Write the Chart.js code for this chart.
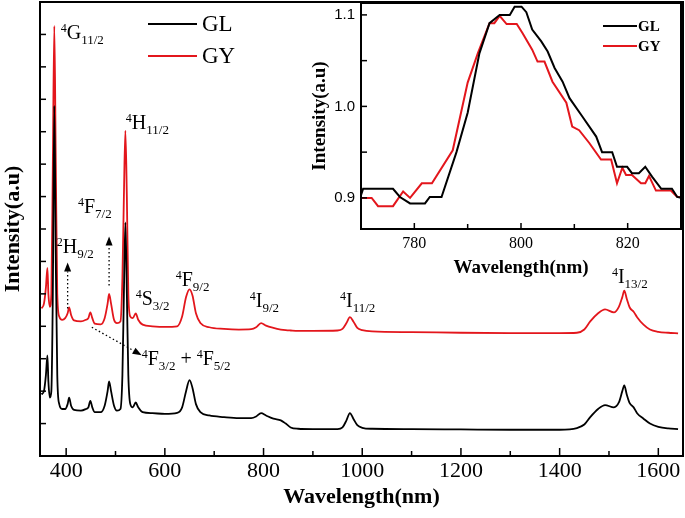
<!DOCTYPE html>
<html>
<head>
<meta charset="utf-8">
<script src="https://cdn.jsdelivr.net/npm/chart.js@4.4.1/dist/chart.umd.min.js"></script>
<style>
  html, body { margin: 0; padding: 0; background: #fff; }
  #wrap { position: relative; width: 685px; height: 518px; }
  .box { position: absolute; }
</style>
</head>
<body>
<div id="wrap">
  <div class="box" style="left:0;top:0;width:685px;height:518px"><canvas id="main" width="685" height="518"></canvas></div>
  <div class="box" style="left:280px;top:0;width:405px;height:290px"><canvas id="inset" width="405" height="290"></canvas></div>
</div>
<script>
// main spectrum (wavelength in nm, intensity in tick units)
var wavelength = [
  350, 355, 359, 362, 364, 367, 370, 373, 376, 379,
  382, 386, 392, 398, 403, 406, 410, 416, 430, 440,
  445, 449, 453, 458, 470, 478, 484, 487, 491, 497,
  503, 510, 514, 517, 520, 523, 526, 530, 535, 541,
  546, 555, 575, 600, 625, 635, 643, 650, 656, 663,
  672, 690, 720, 750, 775, 785, 795, 805, 820, 835,
  845, 855, 870, 900, 950, 960, 968, 975, 982, 990,
  1000, 1020, 1100, 1200, 1300, 1400, 1435, 1450, 1462, 1478,
  1492, 1510, 1520, 1527, 1531, 1536, 1542, 1550, 1557, 1570,
  1583, 1600, 1620, 1640
];
var glIntensity = [
  1.9, 2.0, 2.5, 3.1, 2.3, 1.8, 2.0, 5.0, 10.8, 6.0,
  2.5, 1.6, 1.45, 1.45, 1.6, 1.8, 1.55, 1.42, 1.4, 1.45,
  1.5, 1.7, 1.5, 1.35, 1.35, 1.55, 2.0, 2.3, 2.0, 1.55,
  1.4, 1.45, 2.5, 5.0, 7.2, 5.0, 2.5, 1.6, 1.5, 1.65,
  1.5, 1.35, 1.32, 1.3, 1.33, 1.5, 2.0, 2.34, 2.1, 1.6,
  1.35, 1.25, 1.2, 1.17, 1.17, 1.22, 1.32, 1.25, 1.15, 1.1,
  1.0, 0.88, 0.84, 0.83, 0.83, 0.88, 1.1, 1.32, 1.15, 0.95,
  0.87, 0.84, 0.83, 0.82, 0.81, 0.81, 0.86, 0.97, 1.2, 1.45,
  1.57, 1.5, 1.65, 2.0, 2.18, 1.9, 1.63, 1.5, 1.32, 1.15,
  1.0, 0.9, 0.85, 0.83
];
var gyIntensity = [
  4.55, 4.7, 5.2, 5.8, 5.0, 4.6, 5.0, 9.0, 13.26, 9.0,
  5.0, 4.3, 4.2, 4.25, 4.4, 4.58, 4.35, 4.18, 4.15, 4.2,
  4.25, 4.43, 4.25, 4.08, 4.06, 4.25, 4.7, 5.0, 4.7, 4.2,
  4.1, 4.15, 5.5, 8.0, 10.03, 8.0, 5.0, 4.3, 4.25, 4.4,
  4.2, 4.05, 4.0, 3.98, 4.0, 4.3, 4.9, 5.14, 4.95, 4.4,
  4.1, 3.97, 3.92, 3.9, 3.91, 3.97, 4.1, 4.02, 3.95, 3.9,
  3.88, 3.87, 3.86, 3.86, 3.87, 3.92, 4.1, 4.28, 4.15, 3.95,
  3.88, 3.84, 3.82, 3.8, 3.79, 3.79, 3.8, 3.9, 4.15, 4.4,
  4.52, 4.43, 4.6, 4.9, 5.1, 4.85, 4.58, 4.45, 4.28, 4.05,
  3.9, 3.83, 3.8, 3.78
];
var xTicks = [400, 500, 600, 700, 800, 900, 1000, 1100, 1200, 1300, 1400, 1500, 1600];
var xTickLabels = [400, 600, 800, 1000, 1200, 1400, 1600];
var yTicks = [1, 2, 3, 4, 5, 6, 7, 8, 9, 10, 11, 12, 13];

// inset (zoom around 800 nm)
var insetGLWavelength = [
  770, 770.4, 776, 777.3, 779.2, 782, 782.9, 785.1, 787.9, 790,
  792.2, 794.1, 796, 797.9, 798.8, 800.1, 801, 802.1, 803.8, 805,
  806.3, 807.8, 809.1, 811.5, 814.1, 815.2, 817.1, 818, 819.9, 820.8,
  822.1, 823.3, 824.6, 826.3, 828.3, 829.3, 830
];
var insetGLIntensity = [
  0.903, 0.91, 0.91, 0.901, 0.894, 0.894, 0.901, 0.901, 0.95, 0.993,
  1.058, 1.091, 1.1, 1.1, 1.109, 1.109, 1.103, 1.084, 1.071, 1.06,
  1.042, 1.027, 1.009, 0.989, 0.967, 0.95, 0.95, 0.934, 0.934, 0.927,
  0.927, 0.934, 0.923, 0.91, 0.91, 0.901, 0.9
];
var insetGYWavelength = [
  770, 772, 773.2, 776, 777.9, 779.2, 781.4, 783.3, 787.2, 790,
  791.9, 794.1, 795, 796, 797.3, 799.2, 800.3, 802.1, 803.1, 804.4,
  805.9, 808.5, 809.6, 810.9, 812.8, 815, 816.9, 818, 819, 819.7,
  820.8, 822.5, 823.3, 824, 825.3, 828.1, 829.3, 830
];
var insetGYIntensity = [
  0.9, 0.9, 0.891, 0.891, 0.907, 0.9, 0.916, 0.916, 0.952, 1.026,
  1.058, 1.091, 1.091, 1.099, 1.09, 1.09, 1.08, 1.062, 1.049, 1.049,
  1.027, 1.004, 0.978, 0.974, 0.96, 0.942, 0.942, 0.916, 0.933, 0.925,
  0.925, 0.916, 0.916, 0.924, 0.908, 0.908, 0.901, 0.901
];
var insetXTicks = [780, 790, 800, 810, 820];
var insetXTickLabels = [780, 800, 820];
var insetYTicks = [0.9, 0.95, 1.0, 1.05, 1.1];
var insetYTickLabels = [0.9, 1.0, 1.1];

// level labels: [sup, letter, sub] pieces, placed at (wavelength, intensity)
var levelLabels = [
  { x: 389, y: 12.86, parts: [['4', 'sup'], ['G', 'n'], ['11/2', 'sub']] },
  { x: 521, y: 10.09, parts: [['4', 'sup'], ['H', 'n'], ['11/2', 'sub']] },
  { x: 424, y: 7.48, parts: [['4', 'sup'], ['F', 'n'], ['7/2', 'sub']] },
  { x: 381, y: 6.25, parts: [['2', 'sup'], ['H', 'n'], ['9/2', 'sub']] },
  { x: 541, y: 4.65, parts: [['4', 'sup'], ['S', 'n'], ['3/2', 'sub']] },
  { x: 622, y: 5.23, parts: [['4', 'sup'], ['F', 'n'], ['9/2', 'sub']] },
  { x: 553, y: 2.8, parts: [['4', 'sup'], ['F', 'n'], ['3/2', 'sub'], [' + ', 'n'], ['4', 'sup'], ['F', 'n'], ['5/2', 'sub']] },
  { x: 772, y: 4.58, parts: [['4', 'sup'], ['I', 'n'], ['9/2', 'sub']] },
  { x: 955, y: 4.58, parts: [['4', 'sup'], ['I', 'n'], ['11/2', 'sub']] },
  { x: 1506, y: 5.35, parts: [['4', 'sup'], ['I', 'n'], ['13/2', 'sub']] }
];
// dotted arrows: from (x1,y1) to tip (x2,y2)
var arrows = [
  [403, 4.55, 403, 5.97],
  [487, 5.26, 487, 6.77],
  [452, 3.97, 553, 3.11]
];

var RED = '#e3161c';
var SERIF = '"Liberation Serif", "Times New Roman", serif';
Chart.defaults.color = '#000';

function toXY(xs, ys) {
  return xs.map(function (x, i) { return { x: x, y: ys[i] }; });
}
function setTicks(values) {
  return function (s) { s.ticks = values.map(function (v) { return { value: v }; }); };
}
function labelIf(list, digits) {
  return function (v) {
    for (var i = 0; i < list.length; i++) {
      if (Math.abs(list[i] - v) < 1e-9) return digits ? v.toFixed(digits) : String(v);
    }
    return '';
  };
}
function fixSize(prop, size) {
  return function (s) {
    s[prop] = size;
    s.paddingTop = 0; s.paddingBottom = 0; s.paddingLeft = 0; s.paddingRight = 0;
  };
}

// ticks pointing inward + closed frame
var frameTicks = {
  id: 'frameTicks',
  afterDraw: function (chart, args, opts) {
    var ctx = chart.ctx, a = chart.chartArea;
    var xs = chart.scales.x, ys = chart.scales.y;
    ctx.save();
    ctx.strokeStyle = '#000';
    ctx.lineWidth = 1.5;
    xs.ticks.forEach(function (t) {
      var px = xs.getPixelForValue(t.value);
      var len = t.label !== '' ? opts.xMajor : opts.xMinor;
      ctx.beginPath(); ctx.moveTo(px, a.bottom); ctx.lineTo(px, a.bottom - len); ctx.stroke();
    });
    ys.ticks.forEach(function (t) {
      var py = ys.getPixelForValue(t.value);
      ctx.beginPath(); ctx.moveTo(a.left, py); ctx.lineTo(a.left + opts.yLen, py); ctx.stroke();
    });
    ctx.lineWidth = 2;
    ctx.strokeRect(a.left, a.top, a.right - a.left, a.bottom - a.top);
    ctx.restore();
  }
};

function drawLegend(ctx, a, o) {
  ctx.save();
  ctx.lineWidth = 2;
  ctx.font = o.font;
  ctx.textBaseline = 'middle';
  ctx.fillStyle = '#000';
  [['GL', '#000'], ['GY', RED]].forEach(function (it, i) {
    var y = a.top + o.y0 + i * o.dy;
    ctx.strokeStyle = it[1];
    ctx.beginPath(); ctx.moveTo(a.left + o.x0, y); ctx.lineTo(a.left + o.x1, y); ctx.stroke();
    ctx.fillText(it[0], a.left + o.tx, y + 1);
  });
  ctx.restore();
}

var mainDecor = {
  id: 'mainDecor',
  afterDraw: function (chart) {
    var ctx = chart.ctx, xs = chart.scales.x, ys = chart.scales.y;
    ctx.save();
    ctx.fillStyle = '#000';
    ctx.textBaseline = 'alphabetic';
    levelLabels.forEach(function (l) {
      var x = xs.getPixelForValue(l.x), y = ys.getPixelForValue(l.y);
      l.parts.forEach(function (p) {
        var size = p[1] === 'n' ? 20 : (p[1] === 'sup' ? 12 : 13);
        var dy = p[1] === 'sup' ? -7 : (p[1] === 'sub' ? 5 : 0);
        ctx.font = size + 'px ' + SERIF;
        ctx.fillText(p[0], x, y + dy);
        x += ctx.measureText(p[0]).width;
      });
    });
    arrows.forEach(function (ar) {
      var x1 = xs.getPixelForValue(ar[0]), y1 = ys.getPixelForValue(ar[1]);
      var x2 = xs.getPixelForValue(ar[2]), y2 = ys.getPixelForValue(ar[3]);
      var ang = Math.atan2(y2 - y1, x2 - x1), hl = 9, hw = 3.5;
      var bx = x2 - hl * Math.cos(ang), by = y2 - hl * Math.sin(ang);
      ctx.strokeStyle = '#000';
      ctx.lineWidth = 1.3;
      ctx.setLineDash([1.5, 2.5]);
      ctx.beginPath(); ctx.moveTo(x1, y1); ctx.lineTo(bx, by); ctx.stroke();
      ctx.setLineDash([]);
      ctx.beginPath();
      ctx.moveTo(x2, y2);
      ctx.lineTo(bx + hw * Math.sin(ang), by - hw * Math.cos(ang));
      ctx.lineTo(bx - hw * Math.sin(ang), by + hw * Math.cos(ang));
      ctx.closePath(); ctx.fill();
    });
    ctx.restore();
    drawLegend(ctx, chart.chartArea, { font: '23px ' + SERIF, x0: 108, x1: 157, tx: 162, y0: 22, dy: 32 });
  }
};

var insetDecor = {
  id: 'insetDecor',
  afterDraw: function (chart) {
    drawLegend(chart.ctx, chart.chartArea, { font: 'bold 15px ' + SERIF, x0: 242, x1: 276, tx: 277, y0: 23, dy: 20 });
  }
};

new Chart(document.getElementById('main').getContext('2d'), {
  type: 'line',
  data: {
    datasets: [
      { label: 'GL', data: toXY(wavelength, glIntensity), borderColor: '#000', borderWidth: 1.8, pointRadius: 0, cubicInterpolationMode: 'monotone' },
      { label: 'GY', data: toXY(wavelength, gyIntensity), borderColor: RED, borderWidth: 1.8, pointRadius: 0, cubicInterpolationMode: 'monotone' }
    ]
  },
  options: {
    responsive: false,
    animation: false,
    layout: { padding: { top: 2, right: 2, left: 0, bottom: 0 } },
    plugins: {
      legend: { display: false },
      tooltip: { enabled: false },
      frameTicks: { xMajor: 8, xMinor: 5, yLen: 6 }
    },
    scales: {
      x: {
        type: 'linear', min: 347, max: 1650,
        grid: { display: false, drawTicks: false },
        border: { display: false },
        afterBuildTicks: setTicks(xTicks),
        ticks: {
          autoSkip: false, maxRotation: 0, padding: 2,
          font: { family: SERIF, size: 22 },
          callback: labelIf(xTickLabels, 0)
        },
        title: { display: true, text: 'Wavelength(nm)', font: { family: SERIF, size: 22, weight: 'bold' }, padding: { top: 0, bottom: 7 } },
        afterFit: fixSize('height', 62)
      },
      y: {
        min: 0, max: 14,
        grid: { display: false, drawTicks: false },
        border: { display: false },
        afterBuildTicks: setTicks(yTicks),
        ticks: { display: false },
        title: { display: true, text: 'Intensity(a.u)', font: { family: SERIF, size: 22, weight: 'bold' }, padding: 0 },
        afterFit: fixSize('width', 40)
      }
    }
  },
  plugins: [frameTicks, mainDecor]
});

new Chart(document.getElementById('inset').getContext('2d'), {
  type: 'line',
  data: {
    datasets: [
      { label: 'GL', data: toXY(insetGLWavelength, insetGLIntensity), borderColor: '#000', borderWidth: 2, pointRadius: 0, tension: 0 },
      { label: 'GY', data: toXY(insetGYWavelength, insetGYIntensity), borderColor: RED, borderWidth: 2, pointRadius: 0, tension: 0 }
    ]
  },
  options: {
    responsive: false,
    animation: false,
    layout: { padding: { top: 3, right: 4, left: 0, bottom: 0 } },
    plugins: {
      legend: { display: false },
      tooltip: { enabled: false },
      frameTicks: { xMajor: 6, xMinor: 5, yLen: 6 }
    },
    scales: {
      x: {
        type: 'linear', min: 770, max: 830,
        grid: { display: false, drawTicks: false },
        border: { display: false },
        afterBuildTicks: setTicks(insetXTicks),
        ticks: {
          autoSkip: false, maxRotation: 0, padding: 5,
          font: { family: SERIF, size: 16 },
          callback: labelIf(insetXTickLabels, 0)
        },
        title: { display: true, text: 'Wavelength(nm)', font: { family: SERIF, size: 19, weight: 'bold' }, padding: { top: 0, bottom: 11 } },
        afterFit: fixSize('height', 61)
      },
      y: {
        min: 0.866, max: 1.113,
        grid: { display: false, drawTicks: false },
        border: { display: false },
        afterBuildTicks: setTicks(insetYTicks),
        ticks: {
          autoSkip: false, padding: 6,
          font: { family: '"Liberation Sans", Arial, sans-serif', size: 15 },
          callback: labelIf(insetYTickLabels, 1)
        },
        title: { display: true, text: 'Intensity(a.u)', font: { family: SERIF, size: 19, weight: 'bold' }, padding: { top: 29, bottom: 0 } },
        afterFit: fixSize('width', 81)
      }
    }
  },
  plugins: [frameTicks, insetDecor]
});
</script>
</body>
</html>
